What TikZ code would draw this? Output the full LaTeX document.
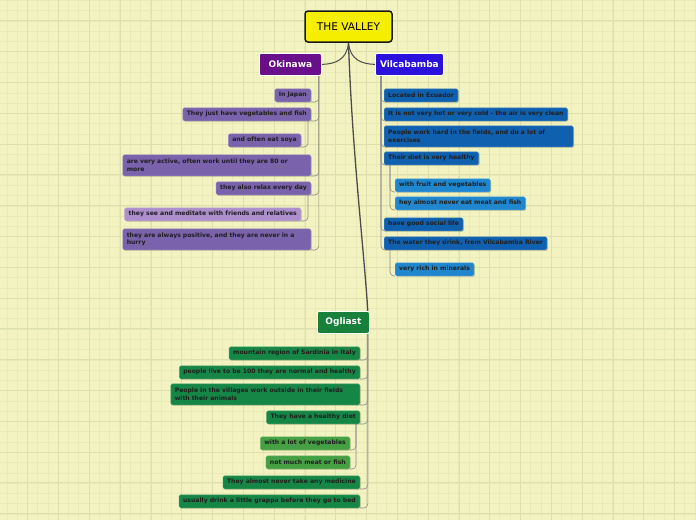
\documentclass[tikz,border=0pt]{standalone}
\usepackage{fontspec}
\setmainfont{DejaVu Sans}
\pgfdeclarelayer{bgl}
\pgfdeclarelayer{lines}
\pgfsetlayers{bgl,lines,main}
\begin{document}
\begin{tikzpicture}[x=1pt,y=-1pt,
  every node/.style={font=\bfseries\fontsize{6.1}{7.4}\selectfont, text=black!88, inner xsep=4pt, inner ysep=0pt, minimum height=13pt, rounded corners=1.5pt},
  box/.style={fill=#1, draw=#1!80!white, line width=0.4pt,
    preaction={fill=black!45!olive, fill opacity=0.35, draw=none, transform canvas={shift={(0.9pt,-0.9pt)}}}},
  main/.style={fill=#1, draw=white, line width=0.8pt, text=white, font=\bfseries\fontsize{9}{10}\selectfont, minimum height=22pt, inner xsep=2pt, rounded corners=2pt},
  two/.style={align=left, text width=#1, minimum height=21pt, inner ysep=2pt},
  conn/.style={draw=black!45, line width=0.6pt, rounded corners=4pt},
  trunk/.style={draw=black!70, line width=1.3pt},
]
\definecolor{bg}{RGB}{242,243,193}
\definecolor{gmin}{RGB}{232,235,184}
\definecolor{gmaj}{RGB}{220,225,172}
\definecolor{okc}{RGB}{106,15,140}
\definecolor{okch}{RGB}{122,98,172}
\definecolor{okcl}{RGB}{172,143,204}
\definecolor{vic}{RGB}{42,18,220}
\definecolor{vich}{RGB}{16,96,176}
\definecolor{vicl}{RGB}{32,134,206}
\definecolor{ogc}{RGB}{24,128,58}
\definecolor{ogch}{RGB}{22,134,70}
\definecolor{ogcl}{RGB}{68,160,67}
\definecolor{yel}{RGB}{246,238,0}
\useasboundingbox (0,0) rectangle (696,520);
\begin{pgfonlayer}{bgl}
\fill[bg] (0,0) rectangle (696,520);
\foreach \i in {0,...,68} {\draw[gmin, line width=0.6pt] ({6.8+10.27*\i},0) -- ({6.8+10.27*\i},520);}
\foreach \i in {0,...,51} {\draw[gmin, line width=0.6pt] (0,{0.4+10.27*\i}) -- (696,{0.4+10.27*\i});}
\foreach \i in {0,...,22} {\draw[gmaj, line width=0.8pt] ({27.7+30.8*\i},0) -- ({27.7+30.8*\i},520);}
\foreach \i in {0,...,17} {\draw[gmaj, line width=0.8pt] (0,{20.7+30.8*\i}) -- (696,{20.7+30.8*\i});}
\end{pgfonlayer}

% central
\node[fill=yel, draw=black!90, line width=1.5pt, rounded corners=3pt, minimum width=87pt, minimum height=31pt, font=\fontsize{10.6}{12}\selectfont, text=black] (v) at (348.5,26.5) {THE VALLEY};
\node[main=okc, anchor=north west, minimum width=62pt] (ok) at (259,53) {Okinawa};
\node[main=vic, anchor=north west, minimum width=68pt] (vi) at (375,53) {Vilcabamba};
\node[main=ogc, anchor=north west, minimum width=52pt] (og) at (317,311) {Ogliast};

% Okinawa children
\node[box=okch, anchor=south east] (ok1) at (311,102) {In Japan};
\node[box=okch, anchor=south east] (ok2) at (311,121) {They just have vegetables and fish};
\node[box=okch, anchor=south east] (ok2a) at (301,147) {and often eat soya};
\node[box=okch, anchor=south east, two=180pt] (ok3) at (311,176) {are very active, often work until they are 80 or\\more};
\node[box=okch, anchor=south east] (ok4) at (311,195) {they also relax every day};
\node[box=okcl, anchor=south east] (ok4a) at (301,221) {they see and meditate with friends and relatives};
\node[box=okch, anchor=south east, two=180pt] (ok5) at (311,250) {they are always positive, and they are never in a\\hurry};

% Vilcabamba children
\node[box=vich, anchor=south west] (vi1) at (384,102) {Located in Ecuador};
\node[box=vich, anchor=south west] (vi2) at (384,121) {It is not very hot or very cold - the air is very clean};
\node[box=vich, anchor=south west, two=181pt] (vi3) at (384,147) {People work hard in the fields, and do a lot of\\exercises};
\node[box=vich, anchor=south west] (vi4) at (384,165) {Their diet is very healthy};
\node[box=vicl, anchor=south west] (vi4a) at (395,192) {with fruit and vegetables};
\node[box=vicl, anchor=south west] (vi4b) at (395,210) {hey almost never eat meat and fish};
\node[box=vich, anchor=south west] (vi5) at (384,231) {have good social life};
\node[box=vich, anchor=south west] (vi6) at (384,250) {The water they drink, from Vilcabamba River};
\node[box=vicl, anchor=south west] (vi6a) at (395,276) {very rich in minerals};

% Ogliast children
\node[box=ogch, anchor=south east] (og1) at (360,360) {mountain region of Sardinia in Italy};
\node[box=ogch, anchor=south east] (og2) at (360,379) {people live to be 100 they are normal and healthy};
\node[box=ogch, anchor=south east, two=181pt] (og3) at (360,405) {People in the villages work outside in their fields\\with their animals};
\node[box=ogch, anchor=south east] (og4) at (360,424) {They have a healthy diet};
\node[box=ogcl, anchor=south east] (og4a) at (350,450) {with a lot of vegetables};
\node[box=ogcl, anchor=south east] (og4b) at (350,469) {not much meat or fish};
\node[box=ogch, anchor=south east] (og5) at (360,489) {They almost never take any medicine};
\node[box=ogch, anchor=south east] (og6) at (360,508) {usually drink a little grappa before they go to bed};

\begin{pgfonlayer}{lines}
\draw[trunk, line width=1pt] (v.south) .. controls (347,60) and (335,64) .. (ok.east);
\draw[trunk, line width=1pt] (v.south) .. controls (350,60) and (362,64) .. (vi.west);
\draw[trunk] (v.south) .. controls (352,150) and (364,250) .. ([xshift=-2pt]og.north east);

\coordinate (okt) at ([xshift=-3pt]ok.south east);
\foreach \c in {ok1,ok2,ok3,ok4,ok5} {\draw[conn] (okt) |- (\c.south east);}
\draw[conn] ([xshift=-3pt]ok2.south east) |- (ok2a.south east);
\draw[conn] ([xshift=-3pt]ok4.south east) |- (ok4a.south east);

\coordinate (vit) at ([xshift=6pt]vi.south west);
\foreach \c in {vi1,vi2,vi3,vi4,vi5,vi6} {\draw[conn] (vit) |- (\c.south west);}
\draw[conn] ([xshift=6pt]vi4.south west) |- (vi4a.south west);
\draw[conn] ([xshift=6pt]vi4.south west) |- (vi4b.south west);
\draw[conn] ([xshift=6pt]vi6.south west) |- (vi6a.south west);

\coordinate (ogt) at ([xshift=-2pt]og.south east);
\foreach \c in {og1,og2,og3,og4,og5,og6} {\draw[conn] (ogt) |- (\c.south east);}
\draw[conn] ([xshift=-4pt]og4.south east) |- (og4a.south east);
\draw[conn] ([xshift=-4pt]og4.south east) |- (og4b.south east);
\end{pgfonlayer}
\end{tikzpicture}
\end{document}
